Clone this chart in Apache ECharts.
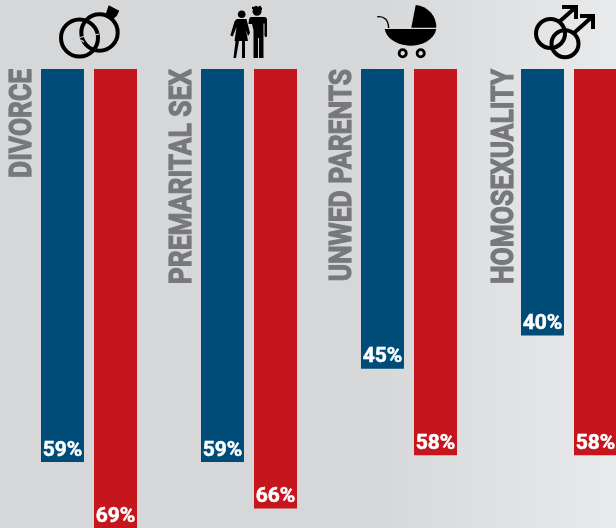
<!DOCTYPE html>
<html>
<head>
<meta charset="utf-8">
<style>html,body{margin:0;padding:0;width:616px;height:528px;overflow:hidden}#c{width:616px;height:528px}</style>
<script src="https://cdn.jsdelivr.net/npm/echarts@6/dist/echarts.min.js"></script>
</head>
<body>
<div id="c"></div>
<script>
const categories = ['DIVORCE', 'PREMARITAL SEX', 'UNWED PARENTS', 'HOMOSEXUALITY'];
const blueValues = [59, 59, 45, 40];
const redValues = [69, 66, 58, 58];

const BG = '#d7d8da';
const INK = '#000';
function ring(cx, cy, r, w) {
  return {type:'circle', shape:{cx, cy, r}, style:{fill:'none', stroke:INK, lineWidth:w}};
}
function solid(d) { return {type:'path', shape:{pathData:d}, style:{fill:INK}}; }
function line(d, w, col) { return {type:'path', shape:{pathData:d}, style:{fill:'none', stroke:col||INK, lineWidth:w}}; }
function disc(cx, cy, r, col) { return {type:'circle', shape:{cx, cy, r}, style:{fill:col||INK}}; }

const icons = [
  {cx: 89, parts: [
    ring(79.5, 38, 18.5, 4), ring(99.5, 32.5, 18.2, 4),
    line('M80 37.5 L84 36.5', 1.2, BG), line('M95 35 L99 34', 1.2, BG),
    line('M81 40 L84 42', 1.2, BG),
    solid('M108.7 5.3 L119.3 10.7 L116.7 16 L113 19 L105 15 L106.7 11.3 Z')
  ]},
  {cx: 249, parts: [
    disc(241.7, 14.3, 3.8), disc(257, 11.3, 4.5),
    solid('M252 6.5 L254 7 L256 5.5 L258 7 L260 5.5 L262 8 L262 10 L252 9 Z'),
    solid('M237 19 L246.5 19 L250 33 L248 36 L246 30 L248 41 L245 41 L245 58 L242 58 L242 41 L239 41 L236 58 L233.5 58 L235.5 41 L234.5 41 L236.5 27 L232.7 36.5 L230.3 35.5 L234.5 21.5 Q235.5 19.5 237 19 Z'),
    solid('M251 17 L265 17 Q267 17 267 19.5 L267 36 Q266.5 37.5 265.5 37 L264.5 36 L264.5 23.5 L263.5 23.5 L263.5 58 L259 58 L259 38 L258 38 L258 58 L253.5 58 L253.5 30 L252 24 L248.5 24 L249 19.5 Q249.5 17 251 17 Z')
  ]},
  {cx: 409, parts: [
    solid('M411.3 27.7 L415.7 5 A 22 22 0 0 1 436.3 27.7 Z'),
    solid('M384.7 29 L436.3 29 A 26 19 0 0 1 384.7 29 Z'),
    line('M377.3 16.7 Q388 15.5 388.7 28', 1.4),
    ring(402.7, 53.3, 3.6, 2.8), ring(420.7, 53.3, 3.6, 2.8)
  ]},
  {cx: 569, parts: [
    ring(550.5, 33.5, 14.5, 4), ring(565, 43.7, 13.5, 4),
    line('M559 22 L576 7', 4), line('M562 7 L576 7 L576 19', 4),
    line('M574 33 L593 16', 4), line('M580 16 L593 16 L593 29', 4)
  ]}
];

const chart = echarts.init(document.getElementById('c'), null, {renderer:'canvas'});
const pctLabel = {
  show:true, position:'insideBottom', distance:1, color:'#fff',
  textBorderColor:'#fff', textBorderWidth:0.5,
  fontFamily:'Roboto,sans-serif', fontWeight:'bold', fontSize:21,
  formatter:p => p.value + '%'
};
chart.setOption({
  animation:false,
  backgroundColor:{type:'linear', x:0, y:0, x2:1, y2:0, colorStops:[
    {offset:0, color:'#d6d7d9'}, {offset:0.6, color:'#d6d7d9'}, {offset:1, color:'#e9eaeb'}]},
  grid:{left:9, top:69, width:640, height:459.6, outerBoundsMode:'none', containLabel:false},
  xAxis:{type:'category', data:categories, show:false},
  yAxis:{type:'value', inverse:true, min:0, max:69, show:false},
  series:[
    {type:'bar', name:'Blue', data:blueValues, barWidth:43, barGap:'23.3%', itemStyle:{color:'#004c79'}, label:pctLabel, silent:true},
    {type:'bar', name:'Red', data:redValues, barWidth:43, barGap:'23.3%', itemStyle:{color:'#c4161c'}, label:pctLabel, silent:true},
    {type:'custom', silent:true, clip:false, data:categories.map((c,i)=>[i,0]), encode:{x:0,y:1},
      renderItem:(params, api) => {
        const i = api.value(0);
        const p = api.coord([i, 0]);
        const icon = icons[i];
        return {type:'group', children:[
          {type:'group', x:p[0]-icon.cx, y:p[1]-69, children:icon.parts},
          {type:'text', x:p[0]-66+(i===3?2:0), y:p[1], rotation:Math.PI/2, scaleX:0.85,
            style:{text:categories[i], fill:'#77787b', stroke:'#77787b', lineWidth:1.2, align:'right', verticalAlign:'middle',
              fontFamily:'Roboto,sans-serif', fontWeight:'bold', fontSize:31}}
        ]};
      }}
  ]
});
</script>
</body>
</html>
